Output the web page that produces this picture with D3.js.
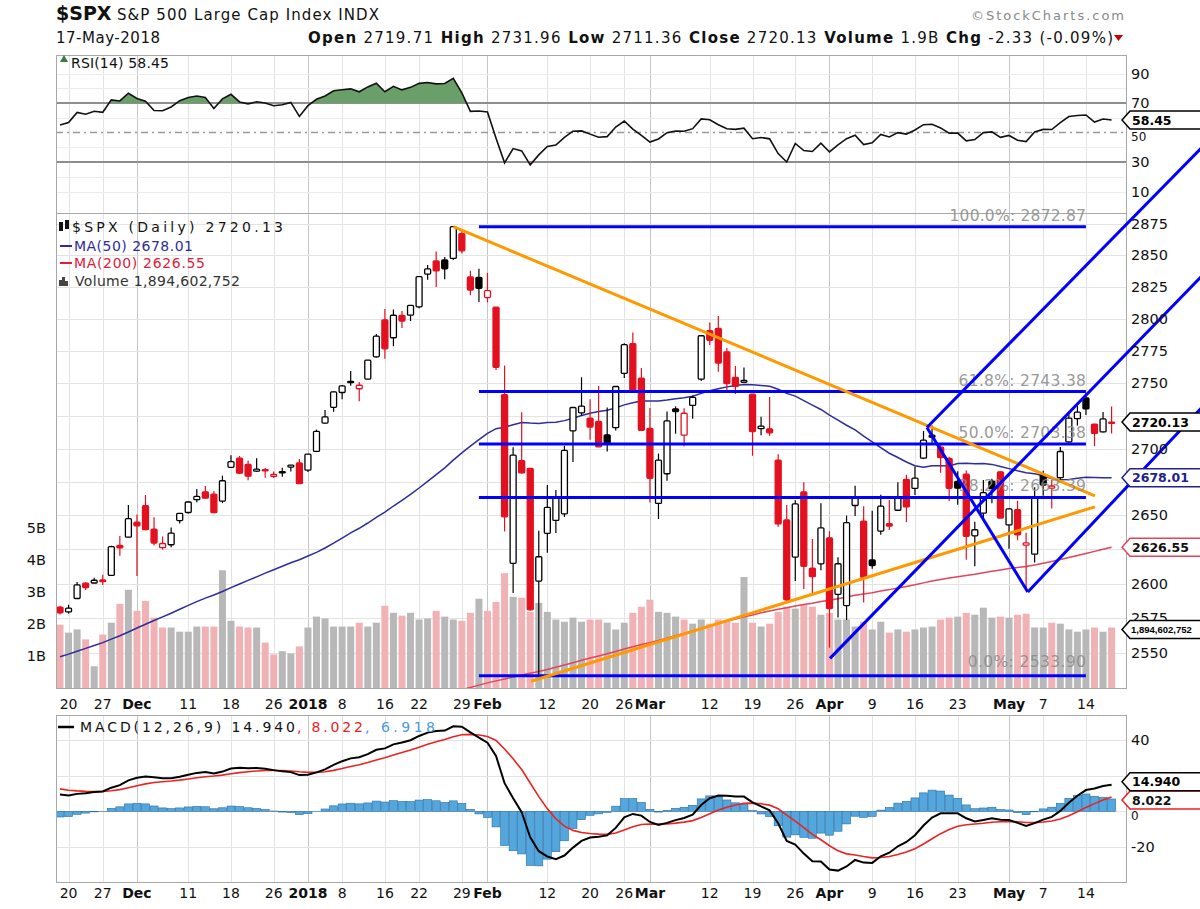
<!DOCTYPE html>
<html><head><meta charset="utf-8">
<script src="https://cdn.jsdelivr.net/npm/d3@7/dist/d3.min.js"></script>
<style>html,body{margin:0;padding:0;background:#fff;}svg{display:block;}</style>
</head><body>
<svg id="chart" width="1200" height="909"></svg>
<script>
const dates = ["2017-11-17","2017-11-20","2017-11-21","2017-11-22","2017-11-24","2017-11-27","2017-11-28","2017-11-29","2017-11-30",
"2017-12-01","2017-12-04","2017-12-05","2017-12-06","2017-12-07","2017-12-08","2017-12-11","2017-12-12","2017-12-13","2017-12-14","2017-12-15","2017-12-18","2017-12-19","2017-12-20","2017-12-21","2017-12-22","2017-12-26","2017-12-27","2017-12-28","2017-12-29",
"2018-01-02","2018-01-03","2018-01-04","2018-01-05","2018-01-08","2018-01-09","2018-01-10","2018-01-11","2018-01-12","2018-01-16","2018-01-17","2018-01-18","2018-01-19","2018-01-22","2018-01-23","2018-01-24","2018-01-25","2018-01-26","2018-01-29","2018-01-30","2018-01-31",
"2018-02-01","2018-02-02","2018-02-05","2018-02-06","2018-02-07","2018-02-08","2018-02-09","2018-02-12","2018-02-13","2018-02-14","2018-02-15","2018-02-16","2018-02-20","2018-02-21","2018-02-22","2018-02-23","2018-02-26","2018-02-27","2018-02-28",
"2018-03-01","2018-03-02","2018-03-05","2018-03-06","2018-03-07","2018-03-08","2018-03-09","2018-03-12","2018-03-13","2018-03-14","2018-03-15","2018-03-16","2018-03-19","2018-03-20","2018-03-21","2018-03-22","2018-03-23","2018-03-26","2018-03-27","2018-03-28","2018-03-29",
"2018-04-02","2018-04-03","2018-04-04","2018-04-05","2018-04-06","2018-04-09","2018-04-10","2018-04-11","2018-04-12","2018-04-13","2018-04-16","2018-04-17","2018-04-18","2018-04-19","2018-04-20","2018-04-23","2018-04-24","2018-04-25","2018-04-26","2018-04-27","2018-04-30",
"2018-05-01","2018-05-02","2018-05-03","2018-05-04","2018-05-07","2018-05-08","2018-05-09","2018-05-10","2018-05-11","2018-05-14","2018-05-15","2018-05-16","2018-05-17"];
const opens = [2582.94,2579.49,2589.17,2600.31,2600.42,2602.66,2605.94,2627.82,2633.93,
2645.10,2657.19,2639.78,2626.24,2628.38,2646.21,2652.19,2661.73,2667.59,2665.87,2660.63,2685.92,2692.71,2688.18,2683.02,2684.22,2679.09,2682.10,2686.10,2689.15,
2683.73,2697.85,2719.31,2731.33,2742.67,2751.15,2745.55,2752.97,2770.18,2798.96,2784.99,2802.40,2802.60,2809.16,2835.05,2845.42,2846.24,2847.48,2867.23,2832.74,2832.41,
2816.45,2808.92,2741.06,2614.78,2690.95,2685.01,2601.78,2636.75,2646.27,2651.21,2713.46,2727.14,2722.99,2720.53,2710.42,2715.80,2757.37,2780.45,2753.78,
2715.22,2658.89,2681.06,2730.18,2710.18,2732.75,2752.91,2790.54,2792.31,2774.06,2754.27,2750.57,2741.38,2715.05,2714.99,2691.36,2646.71,2619.35,2667.57,2611.30,2614.41,
2633.45,2592.17,2584.04,2657.36,2645.82,2617.18,2638.41,2643.89,2653.83,2676.90,2670.10,2692.74,2710.11,2701.16,2692.56,2675.40,2680.80,2634.92,2651.65,2675.47,2682.51,
2642.96,2654.24,2628.08,2621.45,2680.34,2670.26,2678.12,2705.02,2722.70,2738.47,2718.59,2712.62,2719.71];
const highs = [2583.96,2584.64,2601.19,2600.94,2604.21,2606.41,2627.69,2634.89,2657.74,
2650.62,2665.19,2648.72,2634.41,2640.99,2651.65,2660.33,2669.72,2671.88,2668.09,2679.63,2694.97,2694.44,2691.01,2692.64,2685.35,2682.74,2685.64,2687.66,2692.12,
2695.89,2714.37,2729.29,2743.45,2748.51,2759.14,2750.80,2767.56,2787.85,2807.54,2807.04,2805.83,2810.33,2833.03,2842.24,2852.97,2848.56,2872.87,2870.62,2837.75,2839.26,
2835.96,2808.92,2763.39,2701.04,2727.67,2685.27,2638.67,2672.61,2668.84,2702.10,2731.51,2754.42,2737.60,2747.75,2731.26,2747.76,2780.64,2789.15,2761.52,
2730.89,2696.25,2728.09,2732.08,2730.60,2740.45,2786.57,2796.98,2801.90,2777.11,2763.03,2761.85,2741.38,2724.22,2739.14,2695.68,2657.67,2661.36,2674.78,2632.65,2659.07,
2638.30,2619.14,2649.86,2672.08,2656.88,2653.55,2665.45,2661.43,2674.72,2680.26,2686.49,2713.34,2717.49,2702.84,2693.94,2682.86,2683.55,2645.30,2676.48,2677.35,2682.87,
2655.27,2660.87,2637.14,2670.93,2683.35,2676.34,2701.27,2726.11,2732.86,2742.10,2718.59,2727.76,2731.96];
const lows = [2577.62,2578.24,2589.17,2595.23,2600.42,2598.87,2605.44,2620.32,2633.93,
2605.52,2639.03,2627.73,2624.75,2626.53,2644.10,2651.47,2659.78,2662.85,2652.01,2659.14,2685.92,2680.74,2676.11,2682.40,2678.13,2677.96,2678.91,2682.69,2673.61,
2682.36,2697.77,2719.07,2727.92,2737.60,2747.86,2736.06,2752.78,2769.64,2768.64,2778.38,2792.56,2798.08,2808.12,2830.59,2824.81,2830.94,2846.18,2851.48,2818.27,2813.04,
2812.70,2759.97,2638.17,2593.07,2681.33,2580.56,2532.69,2622.45,2637.08,2648.87,2689.82,2725.11,2706.76,2701.29,2697.77,2713.74,2753.78,2744.22,2713.54,
2659.65,2647.32,2675.75,2711.26,2701.74,2722.65,2751.54,2779.26,2758.68,2744.38,2741.47,2749.97,2694.59,2710.05,2709.79,2641.59,2585.89,2601.81,2596.12,2593.06,2609.72,
2553.80,2575.49,2573.61,2649.58,2586.27,2610.79,2635.78,2639.25,2653.83,2645.05,2665.16,2692.05,2703.63,2681.90,2660.61,2657.99,2617.32,2612.67,2647.16,2659.01,2648.04,
2625.41,2631.70,2594.62,2615.32,2664.70,2655.20,2674.14,2704.54,2717.45,2725.47,2701.91,2712.17,2711.36];
const closes = [2578.85,2582.14,2599.03,2597.08,2602.42,2601.42,2627.04,2626.07,2647.58,
2642.22,2639.44,2629.57,2629.27,2636.98,2651.50,2659.99,2664.11,2662.85,2652.01,2675.81,2690.16,2681.47,2679.25,2684.57,2683.34,2680.50,2682.62,2687.54,2673.61,
2695.81,2713.06,2723.99,2743.15,2747.71,2751.29,2748.23,2767.56,2786.24,2776.42,2802.56,2798.03,2810.30,2832.97,2839.13,2837.54,2839.25,2872.87,2853.53,2822.43,2823.81,
2821.98,2762.13,2648.94,2695.14,2681.66,2581.00,2619.55,2656.00,2662.94,2698.63,2731.20,2732.22,2716.26,2701.33,2703.96,2747.30,2779.60,2744.28,2713.83,
2677.67,2691.25,2720.94,2728.12,2726.80,2738.97,2786.57,2783.02,2765.31,2749.48,2747.33,2752.01,2712.92,2716.94,2711.93,2643.69,2588.26,2658.55,2612.62,2605.00,2640.87,
2581.88,2614.45,2644.69,2662.84,2604.47,2613.16,2656.87,2642.19,2663.99,2656.30,2677.84,2706.39,2708.64,2693.13,2670.14,2670.29,2634.56,2639.40,2666.94,2669.91,2648.05,
2654.80,2635.67,2629.73,2663.42,2672.63,2671.92,2697.79,2723.07,2727.72,2730.13,2711.45,2722.46,2720.13];
const prevClose = 2585.64;
const volumes = [1.98,1.73,1.83,1.52,0.68,1.67,2.04,2.63,3.07,
2.41,2.72,2.20,1.89,1.89,1.76,1.76,1.92,1.92,1.92,3.68,2.10,1.92,1.89,1.89,1.42,1.05,1.15,1.08,1.30,
1.89,2.23,2.17,1.92,1.92,1.92,2.04,1.92,2.04,2.57,2.35,2.26,2.35,2.14,2.17,2.41,2.23,2.14,2.10,2.35,2.79,
2.41,2.69,3.59,2.85,2.82,2.38,2.66,2.38,2.14,2.07,2.20,2.07,2.14,2.14,2.04,1.83,2.04,2.35,2.54,
2.76,2.38,2.35,2.23,2.14,2.01,2.14,2.01,2.14,2.07,2.04,3.47,2.04,1.92,2.01,2.38,2.54,2.48,2.60,2.54,2.29,
2.35,2.14,2.14,1.92,2.07,1.83,2.07,1.73,1.83,1.76,1.83,1.89,1.92,2.14,2.20,2.23,2.35,2.29,2.51,2.20,2.23,
2.20,2.29,2.32,1.89,1.89,2.04,2.01,1.83,1.76,1.83,1.89,1.76,1.89];
const ma50 = [2547.3,2549.2,2551.3,2553.3,2555.4,2557.4,2559.9,2562.3,2565.0,2567.9,2570.6,2573.3,2575.9,2578.5,2581.4,2584.2,
2586.9,2589.4,2591.7,2594.2,2597.0,2599.7,2602.3,2604.9,2607.6,2610.1,2612.6,2615.2,2617.4,2620.1,2622.8,2626.0,
2629.5,2633.3,2637.1,2640.5,2644.4,2648.6,2652.5,2657.0,2661.2,2665.6,2670.4,2675.3,2680.4,2685.5,2691.3,2696.8,
2701.9,2706.7,2711.5,2715.1,2716.1,2718.1,2719.7,2719.3,2719.1,2719.7,2720.0,2721.2,2723.0,2725.1,2726.8,2728.1,
2729.1,2730.9,2733.2,2734.8,2736.1,2736.1,2736.1,2736.9,2737.9,2738.7,2739.8,2742.0,2744.0,2745.5,2747.0,2748.1,
2748.8,2748.6,2748.1,2747.4,2745.2,2742.0,2739.9,2736.4,2733.0,2729.7,2725.4,2721.5,2717.7,2714.2,2709.5,2705.0,
2700.7,2696.5,2693.3,2689.9,2687.1,2685.9,2687.1,2687.1,2686.9,2688.7,2689.0,2688.6,2688.7,2688.1,2686.5,2684.9,
2683.3,2681.9,2681.1,2679.6,2677.4,2676.5,2676.7,2677.7,2678.4,2678.3,2678.1,2678.01];
const ma200Start = 44;
const ma200 = [2519.0,2520.6,2522.3,2524.0,2525.6,2527.2,2528.8,2530.2,2531.5,2533.0,2534.4,2535.6,2536.9,2538.3,2539.8,2541.4,2543.1,2544.8,2546.4,2547.9,2549.4,2551.1,2552.9,2554.5,2556.0,
2557.4,2558.9,2560.6,2562.3,2564.0,2565.7,2567.6,2569.4,2571.1,2572.7,2574.3,2575.9,2577.3,2578.8,2580.2,2581.4,2582.4,2583.7,2584.8,2585.8,2587.0,
2587.9,2589.0,2590.2,2591.5,2592.4,2593.4,2594.6,2595.6,2596.8,2597.9,2599.1,2600.5,2601.8,2603.0,2604.0,2605.0,2605.8,2606.7,2607.9,2609.0,2609.9,
2610.9,2611.7,2612.5,2613.6,2614.8,2616.1,2617.5,2619.0,2620.5,2622.0,2623.5,2625.0,2626.55];
const rsi = [55.1,56.7,63.6,62.4,64.4,63.7,72.1,71.4,76.6,73.1,71.2,64.9,64.7,67.3,71.6,73.7,
74.7,73.8,66.2,72.8,75.9,70.7,69.4,70.8,70.0,68.1,68.8,70.4,60.9,68.2,72.5,74.8,
78.3,79.0,79.6,77.6,80.9,83.4,77.6,81.3,78.9,80.6,83.3,83.9,83.0,83.2,86.7,76.9,
64.3,64.6,63.9,46.1,29.4,39.1,37.5,28.1,34.8,40.5,41.5,46.7,50.9,51.1,48.9,46.8,
47.2,53.7,57.8,52.3,48.1,43.5,45.6,49.9,51.0,50.8,52.6,59.2,58.6,55.3,52.5,52.1,
52.9,45.8,46.6,45.7,35.7,30.0,42.6,37.8,37.1,42.8,36.8,41.6,45.8,48.1,41.8,43.0,
48.7,47.0,49.9,48.9,51.7,55.3,55.6,53.1,49.6,49.6,44.3,45.2,49.9,50.4,46.7,48.0,
44.8,43.8,50.4,52.1,52.0,56.7,60.8,61.5,61.9,57.1,59.1,58.45];
const macd = [9.42,8.93,9.79,10.20,10.82,11.11,13.26,14.71,17.39,18.87,19.59,19.15,18.56,18.50,19.40,20.56,
21.56,22.00,21.23,22.29,24.00,24.38,24.22,24.25,23.89,23.11,22.41,21.99,20.31,20.53,21.84,23.49,
26.05,28.12,29.70,30.36,32.07,34.54,35.30,37.57,38.56,39.88,42.27,44.15,44.99,45.27,47.66,47.45,
44.26,41.36,38.48,31.01,15.77,7.34,-0.43,-14.54,-22.35,-25.31,-26.79,-24.79,-20.35,-16.55,-14.66,-14.21,
-13.48,-9.30,-3.34,-1.45,-2.38,-5.97,-7.63,-6.47,-4.92,-3.75,-1.83,3.50,7.35,8.87,8.70,8.29,
8.26,5.01,2.74,0.52,-6.66,-16.64,-18.66,-23.69,-27.97,-28.15,-32.67,-33.24,-30.90,-27.26,-28.76,-28.91,
-25.21,-23.20,-19.62,-17.20,-13.40,-7.98,-3.47,-1.14,-1.13,-1.09,-3.91,-5.68,-4.81,-3.83,-4.77,-4.91,
-6.49,-8.13,-6.63,-4.65,-3.10,0.22,4.83,8.76,11.93,12.78,14.19,14.940];
const macdSignal = [12.60,11.86,11.45,11.20,11.12,11.12,11.55,12.18,13.22,14.35,15.40,16.15,16.63,17.00,17.48,18.10,
18.79,19.43,19.79,20.29,21.03,21.70,22.21,22.62,22.87,22.92,22.82,22.65,22.18,21.85,21.85,22.18,
22.95,23.98,25.13,26.17,27.35,28.79,30.09,31.59,32.98,34.36,35.94,37.58,39.07,40.31,41.78,42.91,
43.18,42.82,41.95,39.76,34.96,29.44,23.46,15.86,8.22,1.51,-4.15,-8.28,-10.69,-11.86,-12.42,-12.78,
-12.92,-12.19,-10.42,-8.63,-7.38,-7.10,-7.20,-7.06,-6.63,-6.05,-5.21,-3.47,-1.30,0.73,2.33,3.52,
4.47,4.58,4.21,3.47,1.44,-2.17,-5.47,-9.11,-12.89,-15.94,-19.28,-22.07,-23.84,-24.52,-25.37,-26.08,
-25.90,-25.36,-24.21,-22.81,-20.93,-18.34,-15.37,-12.52,-10.24,-8.41,-7.51,-7.14,-6.68,-6.11,-5.84,-5.65,
-5.82,-6.28,-6.35,-6.01,-5.43,-4.30,-2.47,-0.23,2.20,4.32,6.29,8.022];
const macdHist = [-3.17,-2.93,-1.66,-1.00,-0.30,-0.01,1.71,2.53,4.17,4.52,4.19,3.00,1.92,1.49,1.91,2.46,
2.77,2.57,1.44,2.00,2.97,2.68,2.01,1.63,1.02,0.19,-0.41,-0.66,-1.87,-1.33,-0.01,1.31,
3.09,4.13,4.57,4.19,4.72,5.75,5.20,5.98,5.58,5.52,6.32,6.56,5.92,4.97,5.88,4.53,
1.08,-1.45,-3.47,-8.75,-19.19,-22.10,-23.89,-30.40,-30.57,-26.82,-22.64,-16.52,-9.66,-4.69,-2.24,-1.43,
-0.56,2.90,7.09,7.18,5.00,1.13,-0.43,0.58,1.71,2.30,3.38,6.97,8.66,8.14,6.37,4.78,
3.79,0.44,-1.47,-2.95,-8.11,-14.47,-13.19,-14.58,-15.09,-12.21,-13.38,-11.16,-7.06,-2.74,-3.39,-2.83,
0.69,2.16,4.60,5.61,7.53,10.36,11.89,11.38,9.12,7.32,3.60,1.47,1.87,2.28,1.07,0.75,
-0.67,-1.84,-0.28,1.36,2.33,4.52,7.30,8.98,9.72,8.46,7.89,6.918];
const fibLevels = [["100.0%",2872.87],["61.8%",2743.38],["50.0%",2703.38],["38.2%",2663.39],["0.0%",2533.90]];
const fibFrom = 49, fibTo = 120;
const channelLines = [[90.06,2546.2,134,2836.6],[101.4,2716.0,134,2940.3],[101.4,2716.0,113.2,2593.9],[113.2,2593.9,134,2734.3]];
const triangleLines = [[46,2872.87,121.05,2664.6],[55.1,2529.9,121.05,2656.4]];
const tickDates = ["2017-11-20","2017-11-27","2017-12-01","2017-12-11","2017-12-18","2017-12-26","2018-01-02","2018-01-08","2018-01-16","2018-01-22","2018-01-29","2018-02-01","2018-02-12","2018-02-20","2018-02-26","2018-03-01","2018-03-12","2018-03-19","2018-03-26","2018-04-02","2018-04-09","2018-04-16","2018-04-23","2018-05-01","2018-05-07","2018-05-14"];
const tickLabels = ["20","27","Dec","11","18","26","2018","8","16","22","29","Feb","12","20","26","Mar","12","19","26","Apr","9","16","23","May","7","14"];
const priceTicks = [2550,2575,2600,2625,2650,2675,2700,2725,2750,2775,2800,2825,2850,2875];
const volumeTicks = [1,2,3,4,5];
const rsiTicks = [90,70,50,30,10];
const macdTicks = [40,20,0,-20];
const headerItems = [["Open",1],["2719.71",0],["High",1],["2731.96",0],["Low",1],["2711.36",0],["Close",1],["2720.13",0],["Volume",1],["1.9B",0],["Chg",1],["-2.33 (-0.09%)",0]];

// ---------- layout ----------
const F="DejaVu Sans, Verdana, sans-serif";
const L=56,R=1126,rsiT=55,rsiB=213,mT=213,mB=688,dT=715,dB=882;
const last=dates.length-1;
const svg=d3.select("#chart");
const x=d3.scalePoint().domain(dates).range([60,1111.6]);
const xi=d3.scaleLinear().domain([0,last]).range([60,1111.6]);
const yP=d3.scaleLog().domain([2550,2875]).range([653,224]);
const yV=d3.scaleLinear().domain([0,5]).range([688,528]);
const yR=d3.scaleLinear().domain([10,90]).range([191.5,73.5]);
const yM=d3.scaleLinear().domain([-20,40]).range([847,740]);
const RED="#e3101f", PINK="#f1b2b6", GRAY="#b8b8b8";
const defs=svg.append("defs");
[["cMain",mT,mB],["cRsi",rsiT,rsiB],["cMacd",dT,dB]].forEach(([id,a,b])=>defs.append("clipPath").attr("id",id).append("rect").attr("x",L).attr("y",a).attr("width",R-L).attr("height",b-a));
defs.append("clipPath").attr("id","cOver").append("rect").attr("x",L).attr("y",rsiT).attr("width",R-L).attr("height",yR(70)-rsiT);
defs.append("clipPath").attr("id","cUnder").append("rect").attr("x",L).attr("y",yR(30)).attr("width",R-L).attr("height",rsiB-yR(30));

// grids
const g0=svg.append("g");
tickDates.forEach((d,k)=>{const xx=Math.round(x(d))+0.5,m=tickLabels[k].length>2;
 [[rsiT,rsiB],[mT,mB],[dT,dB]].forEach(([a,b])=>g0.append("line").attr("x1",xx).attr("x2",xx).attr("y1",a).attr("y2",b).attr("stroke",m?"#c6c6c6":"#e3e3e3"));});
const hl=(y,c)=>g0.append("line").attr("x1",L).attr("x2",R).attr("y1",Math.round(y)+0.5).attr("y2",Math.round(y)+0.5).attr("stroke",c);
priceTicks.forEach(p=>hl(yP(p),"#e3e3e3"));
[90,80,60,40,20,10].forEach(v=>hl(yR(v),"#ececec"));
macdTicks.forEach(v=>hl(yM(v),"#e3e3e3"));

// RSI panel
[70,30].forEach(v=>g0.append("line").attr("x1",L).attr("x2",R).attr("y1",yR(v)).attr("y2",yR(v)).attr("stroke","#8e8e8e").attr("stroke-width",2));
g0.append("line").attr("x1",L).attr("x2",R).attr("y1",yR(50)).attr("y2",yR(50)).attr("stroke","#9a9a9a").attr("stroke-width",1.5).attr("stroke-dasharray","7,4,2,4");
const gR=svg.append("g").attr("clip-path","url(#cRsi)");
const rx=(d,i)=>x(dates[i]);
gR.append("path").datum(rsi).attr("clip-path","url(#cOver)").attr("d",d3.area().x(rx).y0(yR(70)).y1(d=>yR(d))).attr("fill","#6a9f6a");
gR.append("path").datum(rsi).attr("clip-path","url(#cUnder)").attr("d",d3.area().x(rx).y0(yR(30)).y1(d=>yR(d))).attr("fill","#e07070");
gR.append("path").datum(rsi).attr("d",d3.line().x(rx).y(d=>yR(d))).attr("fill","none").attr("stroke","#111").attr("stroke-width",1.6);

// main panel
const gM=svg.append("g").attr("clip-path","url(#cMain)");
gM.selectAll(".vol").data(volumes).join("rect").attr("x",(v,i)=>x(dates[i])-3.5).attr("width",7)
 .attr("y",v=>yV(v)).attr("height",v=>yV(0)-yV(v))
 .attr("fill",(v,i)=>closes[i]<(i?closes[i-1]:prevClose)?PINK:GRAY);
gM.append("path").datum(ma200).attr("d",d3.line().x((d,k)=>x(dates[ma200Start+k])).y(d=>yP(d))).attr("fill","none").attr("stroke","#e2445c").attr("stroke-width",1.5);
gM.append("path").datum(ma50).attr("d",d3.line().x(rx).y(d=>yP(d))).attr("fill","none").attr("stroke","#2d2d9c").attr("stroke-width",1.5);
dates.forEach((d,i)=>{
 const pc=i?closes[i-1]:prevClose, col=closes[i]<pc?RED:"#000", cx=x(d);
 const top=yP(Math.max(opens[i],closes[i])), bot=yP(Math.min(opens[i],closes[i]));
 gM.append("line").attr("x1",cx).attr("x2",cx).attr("y1",yP(highs[i])).attr("y2",yP(lows[i])).attr("stroke",col).attr("stroke-width",1.2);
 const hollow=closes[i]>=opens[i];
 gM.append("rect").attr("x",cx-3).attr("width",6).attr("y",top).attr("height",Math.max(bot-top,1.2))
  .attr("fill",hollow?"#fff":col).attr("stroke",col).attr("stroke-width",1.3).attr("rx",1);
});
fibLevels.forEach(([lab,v])=>gM.append("line").attr("x1",xi(fibFrom)).attr("x2",xi(fibTo)).attr("y1",yP(v)).attr("y2",yP(v)).attr("stroke","#0000ff").attr("stroke-width",3));
triangleLines.forEach(([a,p,b,q])=>gM.append("line").attr("x1",xi(a)).attr("y1",yP(p)).attr("x2",xi(b)).attr("y2",yP(q)).attr("stroke","#ff9900").attr("stroke-width",3));

// MACD panel
const gD=svg.append("g").attr("clip-path","url(#cMacd)");
gD.selectAll(".h").data(macdHist).join("rect").attr("x",(h,i)=>x(dates[i])-4).attr("width",8)
 .attr("y",h=>Math.min(yM(h),yM(0))).attr("height",h=>Math.abs(yM(h)-yM(0))).attr("fill","#54a7dc").attr("stroke","#2a6ea6").attr("stroke-width",0.6);
gD.append("path").datum(macdSignal).attr("d",d3.line().x(rx).y(d=>yM(d))).attr("fill","none").attr("stroke","#ee2222").attr("stroke-width",1.6);
gD.append("path").datum(macd).attr("d",d3.line().x(rx).y(d=>yM(d))).attr("fill","none").attr("stroke","#000").attr("stroke-width",2);

// frames
[[rsiT,rsiB],[mT,mB],[dT,dB]].forEach(([a,b])=>svg.append("rect").attr("x",L+0.5).attr("y",a+0.5).attr("width",R-L).attr("height",b-a).attr("fill","none").attr("stroke","#a8a8a8"));

// fib labels (unclipped so the top one can sit across the panel border)
fibLevels.forEach(([lab,v],k)=>{const s=lab+": "+v.toFixed(2);
 svg.append("text").attr("x",xi(fibTo)).attr("y",yP(v)-(k===4?9:6)).attr("text-anchor","end").attr("font-family",F).attr("font-size",15.5)
  .attr("textLength",s.length*9.1).attr("fill","#8c8c8c").attr("fill-opacity",0.9).text(s);});

// channel lines (drawn over the axis like the reference)
channelLines.forEach(([a,p,b,q])=>svg.append("line").attr("x1",xi(a)).attr("y1",yP(p)).attr("x2",xi(b)).attr("y2",yP(q)).attr("stroke","#0000ff").attr("stroke-width",3));

// text helper
const T=(x0,y0,s,o={})=>svg.append("text").attr("x",x0).attr("y",y0).attr("font-family",o.ff||F).attr("font-size",o.fs||14)
 .attr("font-weight",o.fw||"normal").attr("fill",o.fill||"#111").attr("text-anchor",o.anchor||"start").text(s);

// value tags (positions from data)
const tags=[
 {y:yP(closes[last]),s:closes[last].toFixed(2),stroke:"#000",fill:"#000"},
 {y:yP(ma50[last]),s:ma50[last].toFixed(2),stroke:"#22228a",fill:"#22228a"},
 {y:yP(ma200[ma200.length-1]),s:ma200[ma200.length-1].toFixed(2),stroke:"#e2445c",fill:"#111"},
 {y:yV(volumes[last])+2,s:"1,894,602,752",stroke:"#000",fill:"#000",small:true},
 {y:yR(rsi[last]),s:rsi[last].toFixed(2),stroke:"#000",fill:"#000"},
 {y:yM(macd[last])-3,s:macd[last].toFixed(3),stroke:"#000",fill:"#000"},
 {y:yM(macdSignal[last])+3,s:macdSignal[last].toFixed(3),stroke:"#e22",fill:"#111"}
];
const nearTag=(y,lo,hi)=>tags.some(t=>t.y>=lo&&t.y<=hi&&Math.abs(t.y-y)<11);
priceTicks.forEach(p=>{if(!nearTag(yP(p),mT,mB)) T(1131,yP(p)+5,String(p),{fs:14.5});});
rsiTicks.forEach(v=>{const yy=yR(v); if(!nearTag(yy,rsiT,rsiB)) T(1131,yy+(v===50?8:5),String(v),{fs:v===50?12:14.5});});
macdTicks.forEach(v=>{const yy=yM(v); if(!nearTag(yy,dT,dB)) T(1131,yy+(v===0?9:5),String(v),{fs:v===0?12:14.5});});
volumeTicks.forEach(v=>T(46,yV(v)+5,v+"B",{anchor:"end",fs:14.5}));
tickDates.forEach((d,k)=>{const b=tickLabels[k].length>2;
 [709,898].forEach(yy=>T(x(d),yy,tickLabels[k],{anchor:"middle",fw:b?"bold":"normal",fs:14}));});
[3,2,1,0,4,6,5].forEach(k=>{const t=tags[k],y=t.y;
 svg.append("path").attr("d",`M1122,${y} L1130,${y-9} L1210,${y-9} L1210,${y+9} L1130,${y+9} Z`).attr("fill","#fff").attr("stroke",t.stroke).attr("stroke-width",1.5);
 if(t.small) T(1131,y+3.5,t.s,{fw:"bold",fs:9.5,ff:"Liberation Sans, Arial, sans-serif",fill:t.fill});
 else T(1132,y+4.5,t.s,{fw:"bold",fs:12.5,fill:t.fill});
});

// header
T(56,20,"$SPX",{fw:"bold",fs:19});
T(117,20,"S&P 500 Large Cap Index INDX",{fs:15}).attr("textLength",262);
T(56,43,"17-May-2018",{fs:15}).attr("textLength",104);
T(971,20,"©StockCharts.com",{fs:13,fill:"#888"}).attr("textLength",153);
const hdr=T(308,43,"",{fs:15}).attr("textLength",805);
headerItems.forEach(([s,b],k)=>hdr.append("tspan").attr("font-weight",b?"bold":"normal").text((k?" ":"")+s));
svg.append("path").attr("d","M1114,35 L1123,35 L1118.5,41 Z").attr("fill","#c00");

// legends
svg.append("path").attr("d","M60,62 l4,-7 l4,7 z").attr("fill","#3a7a3a");
T(71,68,"RSI(14) "+rsi[last].toFixed(2),{fs:14}).attr("textLength",98);
svg.append("rect").attr("x",59).attr("y",222).attr("width",4).attr("height",9).attr("fill","#111");
svg.append("rect").attr("x",65).attr("y",220).attr("width",4).attr("height",9).attr("fill","#111");
T(72,232,"$SPX (Daily) "+closes[last].toFixed(2),{fs:14}).attr("textLength",211);
svg.append("line").attr("x1",60).attr("x2",72).attr("y1",246).attr("y2",246).attr("stroke","#2d2d9c").attr("stroke-width",2);
T(74,251,"MA(50) "+ma50[last].toFixed(2),{fs:14,fill:"#2d2d9c"}).attr("textLength",119);
svg.append("line").attr("x1",60).attr("x2",72).attr("y1",263).attr("y2",263).attr("stroke","#e2203a").attr("stroke-width",2);
T(74,268,"MA(200) "+ma200[ma200.length-1].toFixed(2),{fs:14,fill:"#e2203a"}).attr("textLength",131);
svg.append("path").attr("d","M59,286 v-6 h3 v-3 h3 v4 h3 v5 z").attr("fill","#444");
T(75,286,"Volume 1,894,602,752",{fs:14,fill:"#333"}).attr("textLength",165);
svg.append("line").attr("x1",58).attr("x2",74).attr("y1",727).attr("y2",727).attr("stroke","#000").attr("stroke-width",2.5);
T(80,732,"MACD(12,26,9) "+macd[last].toFixed(3),{fs:14}).attr("textLength",215);
T(297,732,", "+macdSignal[last].toFixed(3),{fs:14,fill:"#e82020"}).attr("textLength",66);
T(365,732,", "+macdHist[last].toFixed(3),{fs:14,fill:"#4a9be0"}).attr("textLength",70);
</script>
</body></html>
